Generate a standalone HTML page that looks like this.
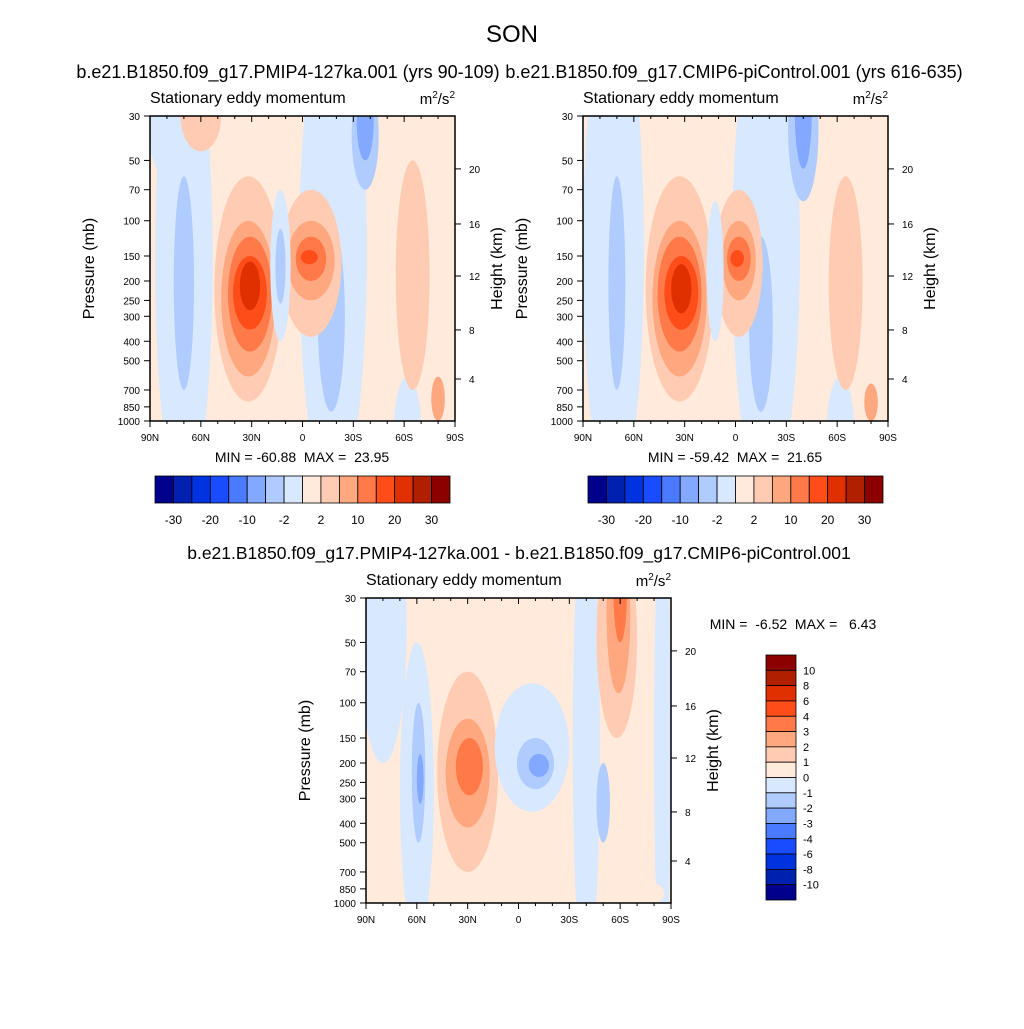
<!DOCTYPE html>
<html><head><meta charset="utf-8"><style>
body{margin:0;background:#fff;font-family:"Liberation Sans",sans-serif}
svg text{font-family:"Liberation Sans",sans-serif;fill:#000;white-space:pre}
</style></head><body>
<svg id="fig" width="1024" height="1024" xmlns="http://www.w3.org/2000/svg">
<rect width="1024" height="1024" fill="#fff"/>
<text x="512" y="42" font-size="24" text-anchor="middle">SON</text>
</svg>
<script>
const colors=["#00008c","#0020b0","#0033e0","#1a4cff","#4a7aff","#82a8ff","#b0ccff","#d8e8ff","#ffeadb","#ffccb3","#ffa880","#ff7a48","#ff4d1a","#e03000","#b02000","#8c0000"];
const pTicks=[30,50,70,100,150,200,250,300,400,500,700,850,1000];
const latTicks=[90,60,30,0,-30,-60,-90];
const latLabels=["90N","60N","30N","0","30S","60S","90S"];
const hLabels=[20,16,12,8,4];
const hPress=[55.1,103.8,188.8,351,617];
const cb1Labels=["-30","-20","-10","-2","2","10","20","30"];
const cb3Labels=["10","8","6","4","3","2","1","0","-1","-2","-3","-4","-6","-8","-10"];
// blob data: lat center, lat half-width, pressure top, pressure bottom, level (+1..+8 / -1..-8)
const p1Lat=[70,82,70,-18,-17,-37,-37,-62,32,32,31,31,31,-5,-5,-5,-4,13,13,-65,-66,60,-80];
const p1W=[17,10,6,20,8,8,5,8,20,16,13,10,6,18,14,9,5,6,3,10,6,12,4];
const p1Top=[10,10,60,8,100,20,20,600,60,100,120,150,160,70,100,120,140,70,110,50,100,20,600];
const p1Bot=[2500,60,700,2500,900,70,50,2000,800,600,450,350,280,380,250,200,165,400,260,700,500,45,1000];
const p1Lev=[-1,-1,-2,-1,-2,-2,-3,-1,2,3,4,5,6,2,3,4,5,-1,-2,2,2,2,3];
const p2Lat=[72,70,-18,-15,-40,-40,-62,33,33,33,32,32,-2,-2,-2,-1,12,-65,-66,-80];
const p2W=[18,5,20,7,9,5,8,20,16,13,10,6,14,10,7,4,5,10,6,4];
const p2Top=[8,60,8,120,15,15,600,60,100,120,150,165,70,100,120,140,80,60,90,650];
const p2Bot=[2500,700,2500,900,80,55,2000,800,600,450,350,290,380,250,200,170,400,700,500,1000];
const p2Lev=[-1,-2,-1,-2,-2,-3,-1,2,3,4,5,6,2,3,4,5,-1,2,2,3];
const p3Lat=[80,60,59,58,30,30,29,-8,-10,-12,-40,-50,-58,-59,-60,-85,-80];
const p3W=[14,10,4,2,18,13,8,22,11,6,8,4,12,7,4,5,6];
const p3Top=[10,50,100,180,70,120,150,80,150,180,10,200,15,15,15,10,800];
const p3Bot=[200,1500,500,320,700,420,290,350,270,235,2500,500,150,90,50,2500,1000];
const p3Lev=[-1,-1,-2,-3,2,3,4,-1,-2,-3,-1,-2,2,3,4,-1,1];
const svg=document.getElementById('fig');const NS="http://www.w3.org/2000/svg";
function mk(tag,attrs,parent){const e=document.createElementNS(NS,tag);for(const k in attrs)e.setAttribute(k,attrs[k]);(parent||svg).appendChild(e);return e;}
function txt(s,x,y,fs,anchor,parent){const t=mk('text',{x:x,y:y,'font-size':fs,'text-anchor':anchor||'middle'},parent);t.textContent=s;return t;}
function levColor(l){return l>0?colors[7+l]:colors[8+l];}
function panel(id,X,Y,lat,w,top,bot,lev){
 const W=305,H=305;
 const xs=l=>X+(90-l)/180*W;
 const ys=p=>Y+Math.log(p/30)/Math.log(1000/30)*H;
 const g=mk('g',{});
 
 
 const cp=mk('clipPath',{id:id+'clip'},g);mk('rect',{x:X,y:Y,width:W,height:H},cp);
 const cg=mk('g',{'clip-path':'url(#'+id+'clip)'},g);
 mk('rect',{x:X,y:Y,width:W,height:H,fill:colors[8]},cg);
 for(let i=0;i<lat.length;i++){
  const cx=xs(lat[i]),cy=(ys(top[i])+ys(bot[i]))/2;
  const e=mk('ellipse',{cx:cx,cy:cy,rx:Math.abs(xs(lat[i]+w[i])-cx),ry:(ys(bot[i])-ys(top[i]))/2,fill:levColor(lev[i])},cg);
  
  
 }
 mk('rect',{x:X,y:Y,width:W,height:H,fill:'none',stroke:'#000','stroke-width':1.5},g);
 pTicks.forEach(p=>{const y=ys(p);mk('line',{x1:X-6,x2:X,y1:y,y2:y,stroke:'#000'},g);txt(String(p),X-10,y+4,10,'end',g);});
 for(let l=90;l>=-90;l-=10){const x=xs(l);const maj=l%30==0;mk('line',{x1:x,x2:x,y1:Y+H,y2:Y+H+(maj?6:3),stroke:'#000'},g);mk('line',{x1:x,x2:x,y1:Y,y2:Y+(maj?6:3),stroke:'#000'},g);}
 latTicks.forEach((l,i)=>txt(latLabels[i],xs(l),Y+H+20,10,'middle',g));
 hLabels.forEach((h,i)=>{const y=ys(hPress[i]);mk('line',{x1:X+W,x2:X+W+6,y1:y,y2:y,stroke:'#000'},g);txt(String(h),X+W+14,y+4,10,'start',g);});
 const py=Y+H/2;
 const a=txt('Pressure (mb)',X-56,py,16,'middle',g);a.setAttribute('transform','rotate(-90 '+(X-56)+' '+py+')');
 const b=txt('Height (km)',X+W+47,py,16,'middle',g);b.setAttribute('transform','rotate(-90 '+(X+W+47)+' '+py+')');
 txt('Stationary eddy momentum',X,Y-13,16,'start',g);
 const u=txt('',X+W,Y-12,15,'end',g);u.innerHTML='m<tspan dy="-6" font-size="10">2</tspan><tspan dy="6">/s</tspan><tspan dy="-6" font-size="10">2</tspan>';
 return g;
}
panel('left',150,116,p1Lat,p1W,p1Top,p1Bot,p1Lev);
panel('right',583,116,p2Lat,p2W,p2Top,p2Bot,p2Lev);
panel('diff',366,598,p3Lat,p3W,p3Top,p3Bot,p3Lev);
txt('b.e21.B1850.f09_g17.PMIP4-127ka.001 (yrs 90-109)',288,78,18);
txt('b.e21.B1850.f09_g17.CMIP6-piControl.001 (yrs 616-635)',734,78,18);
txt('b.e21.B1850.f09_g17.PMIP4-127ka.001 - b.e21.B1850.f09_g17.CMIP6-piControl.001',519,559,17.5);
txt('MIN = -60.88  MAX =  23.95',302,462,14);
txt('MIN = -59.42  MAX =  21.65',735,462,14);
txt('MIN =  -6.52  MAX =   6.43',793,629,14);
function hbar(X,Y,name){
 const g=mk('g',{});
 
 
 const bw=295/16;
 colors.forEach((c,i)=>mk('rect',{x:X+i*bw,y:Y,width:bw,height:27,fill:c,stroke:'#000','stroke-width':0.8},g));
 cb1Labels.forEach((s,i)=>txt(s,X+(i*2+1)*bw,Y+48,12,'middle',g));
}
hbar(155,476,'left-colorbar');hbar(588,476,'right-colorbar');
(function(){const g=mk('g',{});
 
 
 const X=766,Y=655,bh=245/16;
 for(let i=0;i<16;i++)mk('rect',{x:X,y:Y+i*bh,width:30,height:bh,fill:colors[15-i],stroke:'#000','stroke-width':0.8},g);
 cb3Labels.forEach((s,i)=>txt(s,X+37,Y+(i+1)*bh+4,11,'start',g));
})();
</script>
</body></html>
